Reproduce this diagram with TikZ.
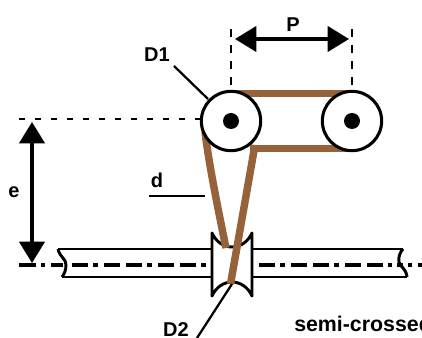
\documentclass[tikz,border=0pt]{standalone}
\usepackage{fontspec}
\setmainfont{Liberation Sans}
\usetikzlibrary{arrows.meta}
\definecolor{beltc}{HTML}{96623A}
\tikzset{
  ln/.style={line width=2.2pt,black},
  thin ln/.style={line width=1.7pt,black},
  belt/.style={line width=5.6pt,beltc,line join=round},
  vdash/.style={line width=1pt,black,dash pattern=on 6pt off 6pt},
  hdash/.style={line width=0.9pt,black,dash pattern=on 4.5pt off 7.5pt},
  centre/.style={line width=2.3pt,black,dash pattern=on 12pt off 3.75pt on 3.75pt off 4.5pt on 12pt off 4.5pt},
  dim/.style={line width=2.3pt,black,{Triangle[length=16pt,width=19pt]}-{Triangle[length=16pt,width=19pt]}},
  lab/.style={font=\bfseries\fontsize{15}{15}\selectfont,inner sep=0pt},
  wheel/.style={circle,draw=black,line width=2.3pt,fill=white,minimum size=44.5pt,inner sep=0pt},
  hub/.style={circle,fill=black,minimum size=12pt,inner sep=0pt}
}
\begin{document}
\begin{tikzpicture}[x=0.75pt,y=-0.75pt]
\useasboundingbox (0,0) rectangle (422,338);
\clip (0,0) rectangle (422,338);
\coordinate (pl) at (231,121);
\coordinate (pr) at (352,121);
\coordinate (e1) at (32,122);
\coordinate (e2) at (32,263);
\coordinate (p1) at (235,39);
\coordinate (p2) at (349,39);
% shaft
\draw[ln] (58,249) -- (212,249) (62,277) -- (212,277);
\draw[ln] (252,249) -- (403,249) (252,277) -- (407,277);
\draw[ln] (58,249) .. controls (60,258) and (66,258) .. (66,265) .. controls (66,271) and (64,274) .. (62,277);
\draw[ln] (403,249) .. controls (400,252) and (398,258) .. (399,262) .. controls (400,267) and (406,268) .. (407,277);
% centre line
\draw[line width=2.3pt] (19,265) -- (36,265) (41,265) -- (45,265) (51,265) -- (63,265);
\draw[centre] (72,265) -- (206,265);
\draw[centre] (259,265) -- (392,265);
\draw[line width=2.3pt] (397,265) -- (403,265) (408,265) -- (412,265) (418,265) -- (422,265);
% pulley
\filldraw[ln,fill=white,line join=round] (212,233) .. controls (216,242) and (224,247) .. (232,247) .. controls (240,247) and (248,242) .. (252,233) -- (252,296) .. controls (248,287) and (240,282) .. (232,282) .. controls (224,282) and (216,287) .. (212,296) -- cycle;
\draw[ln] (62,265) -- (51,265);
% dashed guides
\draw[vdash] (231,29) -- (231,90);
\draw[vdash] (352,29) -- (352,90);
\draw[hdash] (19,119) -- (200,119);
% belt
\draw[belt] (231,93.5) -- (352,93.5);
\draw[belt] (250,148.5) -- (352,148.5);
\draw[belt] (205,132) .. controls (208,155) and (212,180) .. (226,248);
\draw[belt] (255,145) -- (230.5,284);
% wheels
\node[wheel] (w1) at (pl) {};
\node[wheel] (w2) at (pr) {};
\node[hub] (h1) at (pl) {};
\node[hub] (h2) at (pr) {};
% dims
\draw[dim] (p1) -- (p2);
\draw[dim] (e1) -- (e2);
% labels
\node[lab] (lP) at (293,25) {P};
\node[lab] (lD1) at (157,55) {D1};
\node[lab] (le) at (14,192) {e};
\node[lab] (ld) at (157,180) {d};
\node[lab] (lD2) at (176,329.5) {D2};
\node[lab,anchor=base west,font=\bfseries\fontsize{16}{16}\selectfont] (ls) at (294,332) {semi-crossed};
% leaders
\coordinate (a1) at (174,66);
\coordinate (a2) at (208,99);
\coordinate (b1) at (197,338);
\coordinate (b2) at (232,284);
\coordinate (c1) at (149,196);
\coordinate (c2) at (205,196);
\draw[thin ln] (a1) -- (a2);
\draw[thin ln] (b1) -- (b2);
\draw[thin ln] (c1) -- (c2);
\end{tikzpicture}
\end{document}
